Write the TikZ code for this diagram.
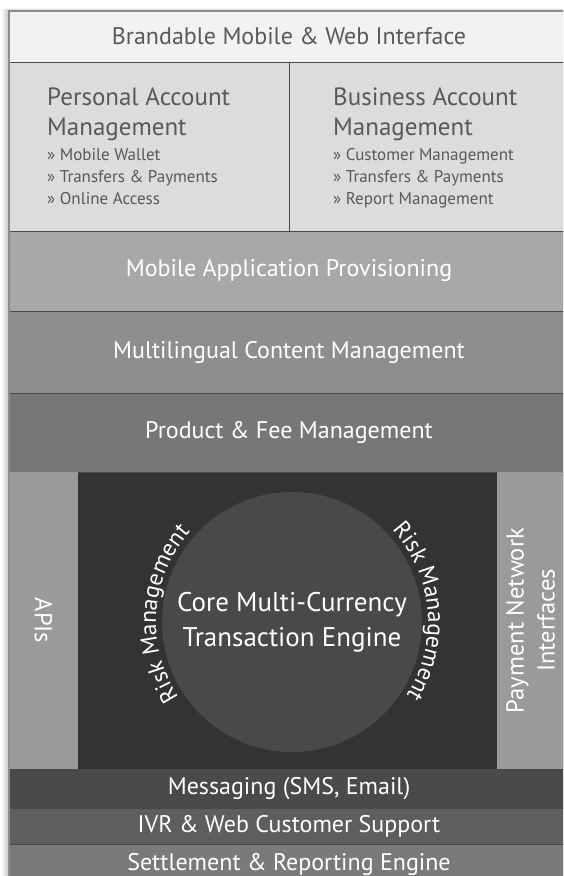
\documentclass[tikz,border=0pt]{standalone}
\usepackage{fontspec}
\setmainfont{PT Sans}
\usetikzlibrary{positioning,decorations.text}
\definecolor{rowBrand}{HTML}{F2F2F2}
\definecolor{rowAcct}{HTML}{DCDCDC}
\definecolor{rowProv}{HTML}{A9A7A8}
\definecolor{rowLing}{HTML}{8F8D8E}
\definecolor{rowFee}{HTML}{787677}
\definecolor{rowCore}{HTML}{343233}
\definecolor{rowStrip}{HTML}{9B999A}
\definecolor{rowDisc}{HTML}{4A4849}
\definecolor{rowMsg}{HTML}{4B4949}
\definecolor{rowIvr}{HTML}{5F5D5E}
\definecolor{rowSettle}{HTML}{7B797A}
\definecolor{edgeLine}{HTML}{4A4A4A}
\definecolor{frameLine}{HTML}{8C8C8C}
\definecolor{darkText}{HTML}{595959}
\newcommand{\BoxW}{560}
\newcommand{\riskfont}{\fontsize{23.5}{27}\selectfont}
\tikzset{
  layer/.style={draw=edgeLine, line width=0.9pt, outer sep=0pt, inner sep=0pt,
    minimum width=\BoxW, text=white, font=\fontsize{24}{28}\selectfont},
  strip/.style={fill=rowStrip, outer sep=0pt, inner sep=0pt, text=white,
    font=\fontsize{24.5}{31}\selectfont, align=center},
  acctTitle/.style={inner sep=0pt, text=darkText, align=left,
    font=\fontsize{25}{30}\selectfont},
  acctList/.style={inner sep=0pt, text=darkText, align=left,
    font=\fontsize{17}{22}\selectfont},
  riskText/.style={decorate, decoration={text along path, text align=center,
    text color=white, text={|\riskfont|#1}}}
}
\begin{document}
\begin{tikzpicture}[x=1pt,y=1pt]
  \useasboundingbox (0,0) rectangle (563,-876);
  \clip (0,0) rectangle (563,-876);
  \fill[white] (0,0) rectangle (563,-876);
  % soft shadow on the left
  \foreach \s in {1,...,7}
    \fill[black, opacity=0.03] ({9-\s},{-11+0.4*\s}) rectangle (580,-890);
  % stacked layers
  \node[layer, fill=rowBrand, text=darkText, minimum height=51, anchor=north west]
    (brand) at (9,-11) {Brandable Mobile \& Web Interface};
  \node[layer, fill=rowAcct, minimum width=280, minimum height=169, anchor=north west]
    (personal) at (brand.south west) {};
  \node[layer, fill=rowAcct, minimum width=280, minimum height=169, anchor=north west]
    (business) at (personal.north east) {};
  \node[layer, fill=rowProv, minimum height=80, anchor=north west]
    (prov) at (personal.south west) {Mobile Application Provisioning};
  \node[layer, fill=rowLing, minimum height=82, below=0pt of prov]
    (ling) {Multilingual Content Management};
  \node[layer, fill=rowFee, minimum height=79, below=0pt of ling]
    (fee) {Product \& Fee Management};
  \node[layer, fill=rowCore, minimum height=297, below=0pt of fee] (core) {};
  \node[layer, fill=rowMsg, minimum height=39, below=0pt of core]
    (msg) {Messaging (SMS, Email)};
  \node[layer, fill=rowIvr, minimum height=36, below=0pt of msg]
    (ivr) {IVR \& Web Customer Support};
  \node[layer, fill=rowSettle, minimum height=40, below=0pt of ivr]
    (settle) {Settlement \& Reporting Engine};
  % outer frame
  \draw[frameLine, line width=1.6pt] (580,-11) -- (9,-11) -- (9,-890);
  % account blocks
  \node[acctTitle, anchor=north west] (pamTitle) at (47,-88)
    {Personal Account\\Management};
  \node[acctList, below right=7pt and 0pt of pamTitle.south west] (pamList)
    {» Mobile Wallet\\» Transfers \& Payments\\» Online Access};
  \node[acctTitle, anchor=north west] (bamTitle) at (333,-88)
    {Business Account\\Management};
  \node[acctList, below right=7pt and 0pt of bamTitle.south west] (bamList)
    {» Customer Management\\» Transfers \& Payments\\» Report Management};
  % side strips of the core row
  \node[strip, minimum width=69, minimum height=296.1, anchor=west]
    (apis) at (core.west) {\rotatebox{-90}{APIs}};
  \node[strip, minimum width=72, minimum height=296.1, anchor=west]
    (pni) at (497,-620.5) {\rotatebox{90}{\begin{tabular}{@{}c@{}}Payment Network\\Interfaces\end{tabular}}};
  % engine disc
  \node[circle, fill=rowDisc, minimum size=260, inner sep=0pt, text=white,
    align=center, font=\fontsize{27}{35}\selectfont]
    (engine) at (292,-622) {Core Multi-Currency\\Transaction Engine};
  \path[riskText={Risk Management}] (engine.center) ++(240:136)
    arc[start angle=240, end angle=112, radius=136];
  \path[riskText={Risk Management}] (engine.center) ++(69:136)
    arc[start angle=69, end angle=-59, radius=136];
\end{tikzpicture}
\end{document}
